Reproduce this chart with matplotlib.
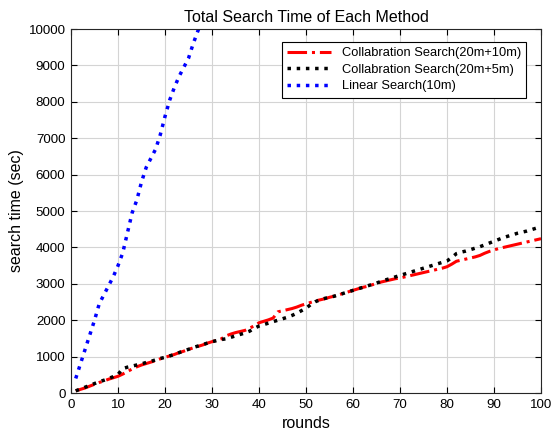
import matplotlib.pyplot as plt
import numpy as np

plt.rcParams['font.family'] = ['Liberation Sans', 'DejaVu Sans']

rounds = np.arange(1, 101)

collab_10 = [60, 100, 140, 190, 240, 290, 330, 380, 420, 460,
             520, 590, 660, 720, 770, 810, 850, 890, 940, 980,
             1020, 1060, 1110, 1150, 1200, 1240, 1280, 1320, 1370, 1410,
             1450, 1490, 1570, 1620, 1660, 1690, 1720, 1780, 1850, 1930,
             1970, 2010, 2060, 2230, 2260, 2290, 2320, 2360, 2410, 2450,
             2490, 2530, 2560, 2590, 2630, 2660, 2700, 2740, 2780, 2820,
             2860, 2900, 2930, 2970, 3010, 3050, 3080, 3110, 3140, 3160,
             3190, 3220, 3250, 3280, 3310, 3340, 3370, 3400, 3430, 3470,
             3540, 3620, 3650, 3680, 3710, 3740, 3780, 3840, 3890, 3930,
             3970, 4000, 4030, 4060, 4090, 4120, 4150, 4180, 4210, 4240]

collab_5 = [60, 110, 160, 210, 260, 310, 350, 400, 450, 510,
            670, 710, 740, 770, 800, 840, 870, 910, 950, 980,
            1020, 1060, 1110, 1160, 1200, 1250, 1290, 1330, 1370, 1410,
            1440, 1470, 1490, 1530, 1570, 1610, 1650, 1700, 1780, 1840,
            1880, 1920, 1960, 2000, 2040, 2080, 2130, 2190, 2260, 2330,
            2430, 2510, 2560, 2600, 2630, 2660, 2700, 2740, 2780, 2820,
            2860, 2900, 2940, 2980, 3020, 3070, 3110, 3150, 3190, 3230,
            3270, 3310, 3350, 3390, 3430, 3470, 3510, 3550, 3590, 3630,
            3720, 3830, 3870, 3900, 3940, 3980, 4020, 4070, 4120, 4170,
            4220, 4270, 4310, 4350, 4390, 4420, 4450, 4490, 4530, 4580]

linear_rounds = np.arange(1, 31)
linear_10 = [400, 800, 1200, 1600, 2000, 2450, 2700, 2950, 3200, 3500,
             3850, 4400, 4950, 5300, 5800, 6200, 6450, 6700, 7100, 7600,
             8050, 8400, 8700, 8950, 9200, 9600, 9950, 10300, 10700, 11100]

fig = plt.figure(figsize=(5.51, 4.38), dpi=100)
ax = fig.add_axes([0.1289, 0.1027, 0.853, 0.831])

ax.plot(rounds, collab_10, color='red', linestyle='-.', linewidth=2.2,
        label='Collabration Search(20m+10m)')
ax.plot(rounds, collab_5, color='black', linestyle=':', linewidth=2.5,
        label='Collabration Search(20m+5m)')
ax.plot(linear_rounds, linear_10, color='blue', linestyle=':', linewidth=2.5,
        label='Linear Search(10m)')

ax.set_xlim(0, 100)
ax.set_ylim(0, 10000)
ax.set_xticks(range(0, 101, 10))
ax.set_yticks(range(0, 10001, 1000))
ax.grid(True, color='#d4d4d4', linewidth=0.8)
ax.set_axisbelow(True)
ax.tick_params(direction='in', labelsize=9.6, length=4, top=True, right=True,
               pad=4)
for s in ax.spines.values():
    s.set_color('#262626')

ax.set_title('Total Search Time of Each Method', fontsize=11.5, pad=5)
ax.set_xlabel('rounds', fontsize=11.5, labelpad=4)
ax.set_ylabel('search time (sec)', fontsize=11.5, labelpad=3)

leg = ax.legend(loc='upper right', fontsize=9.3, fancybox=False, framealpha=1,
                edgecolor='black', handlelength=3.4, borderpad=0.4,
                labelspacing=0.35, borderaxespad=0,
                bbox_to_anchor=(0.968, 0.964))
leg.get_frame().set_linewidth(0.8)

fig.savefig('out.png', dpi=100)
